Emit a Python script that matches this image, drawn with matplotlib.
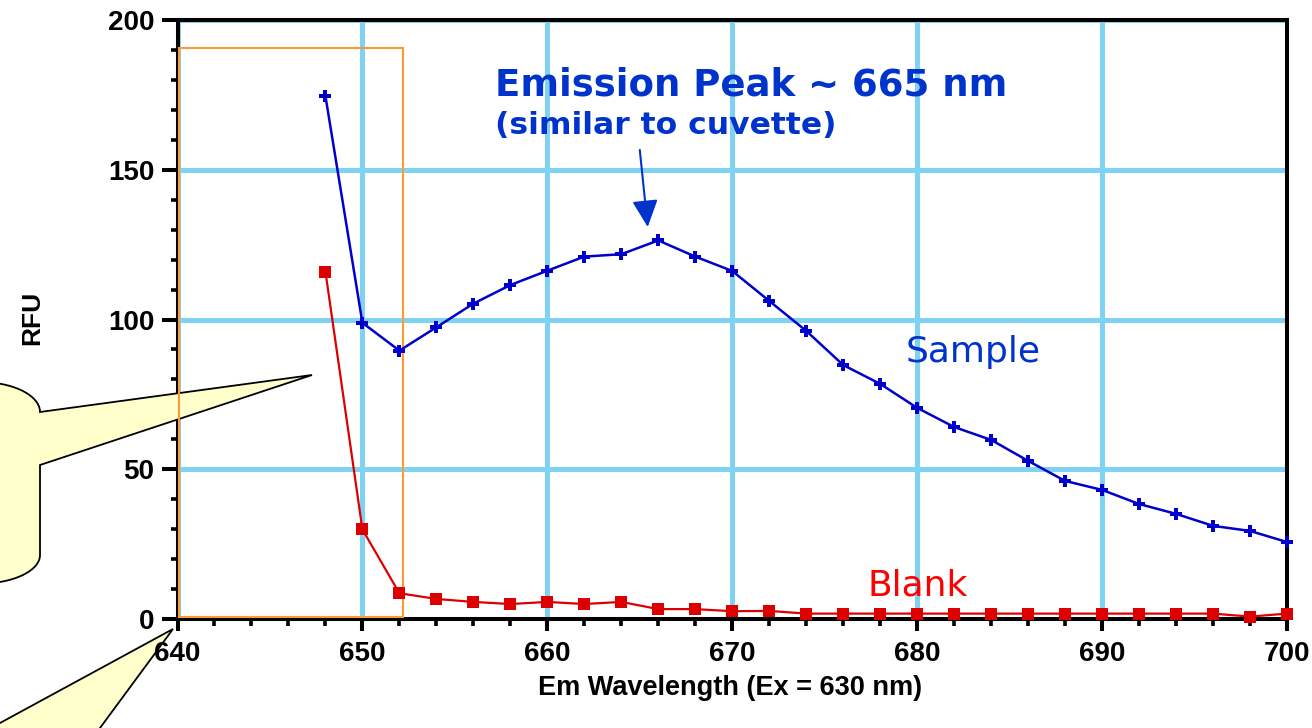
import numpy as np
import matplotlib
matplotlib.use("Agg")
import matplotlib.pyplot as plt
from matplotlib.path import Path
from matplotlib.patches import PathPatch, Rectangle
from matplotlib.ticker import MultipleLocator

# Emission scan (Ex = 630 nm), RFU per 2 nm step
wavelength = [648, 650, 652, 654, 656, 658, 660, 662, 664, 666, 668, 670, 672, 674,
              676, 678, 680, 682, 684, 686, 688, 690, 692, 694, 696, 698, 700]
sample = [174.6, 98.9, 89.6, 97.4, 105.3, 111.5, 116.3, 121.0, 121.8, 126.4, 121.0,
          116.2, 106.2, 96.2, 84.8, 78.5, 70.5, 64.1, 59.8, 52.8, 46.1, 43.1, 38.4,
          35.1, 31.1, 29.4, 25.7]
blank = [116.0, 29.9, 8.6, 6.7, 5.7, 5.0, 5.7, 5.0, 5.7, 3.3, 3.3, 2.6, 2.7, 1.8,
         1.8, 1.8, 1.8, 1.8, 1.8, 1.8, 1.8, 1.8, 1.8, 1.8, 1.8, 0.8, 1.8]

x_ticks = [640, 650, 660, 670, 680, 690, 700]
y_ticks = [0, 50, 100, 150, 200]

W, H = 1312, 728
fig = plt.figure(figsize=(W / 100, H / 100), dpi=100)
ax = fig.add_axes([177.5 / W, 1 - 619 / H, (1287 - 177.5) / W, (619 - 20) / H])


def px(x, y):
    """Pixel position (origin top-left) to figure fraction."""
    return x / W, 1 - y / H


grid_color = "#7FD3F2"
blue_line = "#0000CC"
red_line = "#DD0000"
text_blue = "#0033CC"

ax.set_xlim(640, 700)
ax.set_ylim(0, 200)
ax.set_xticks(x_ticks)
ax.set_yticks(y_ticks)
ax.xaxis.set_minor_locator(MultipleLocator(2))
ax.yaxis.set_minor_locator(MultipleLocator(10))
ax.grid(True, which="major", color=grid_color, linewidth=3.6)

for s in ax.spines.values():
    s.set_linewidth(2.9)
    s.set_color("black")

tick_font = dict(family="Liberation Sans", weight="bold", size=20)
ax.tick_params(axis="y", which="major", length=11.5, width=2.9, pad=5)
ax.tick_params(axis="x", which="major", length=8.6, width=2.9, pad=7.5)
ax.tick_params(axis="both", which="minor", length=5.2, width=2.6)
for lab in ax.get_xticklabels() + ax.get_yticklabels():
    lab.set_fontproperties(matplotlib.font_manager.FontProperties(**tick_font))

# axis titles
fx, fy = px(730, 695)
fig.text(fx, fy, "Em Wavelength (Ex = 630 nm)", ha="center", va="baseline",
         family="Liberation Sans", weight="bold", size=19.5)
fx, fy = px(39.5, 317.5)
fig.text(fx, fy, "RFU", ha="center", va="baseline", rotation=90,
         rotation_mode="anchor", family="Liberation Sans", weight="bold", size=19)

# data series
ax.plot(wavelength, sample, color=blue_line, linewidth=1.8, marker="P",
        markersize=8.5, markeredgewidth=0, clip_on=False, zorder=5)
ax.plot(wavelength, blank, color=red_line, linewidth=1.6, marker="s",
        markersize=8.5, markeredgewidth=0, clip_on=False, zorder=5)

# series labels
ax.text(679.4, 85.9, "Sample", color=text_blue, family="DejaVu Sans",
        size=26, va="baseline", ha="left")
ax.text(677.3, 7.7, "Blank", color="#FF0000", family="DejaVu Sans",
        size=26, va="baseline", ha="left")

# peak annotation
ax.text(657.15, 174.9, "Emission Peak ~ 665 nm", color=text_blue,
        family="DejaVu Sans", weight="bold", size=26.7, va="baseline", ha="left")
ax.text(657.15, 161.9, "(similar to cuvette)", color=text_blue,
        family="DejaVu Sans", weight="bold", size=22.6, va="baseline", ha="left")
ax.annotate("", xy=(665.43, 130.9), xytext=(665.0, 156.6),
            arrowprops=dict(arrowstyle="-|>,head_length=16.5,head_width=7.9",
                            mutation_scale=1, color=text_blue, linewidth=1.5,
                            shrinkA=0, shrinkB=0))

# orange highlight box over the low-wavelength region
ax.add_patch(Rectangle((640.1, 0.6), 12.07, 190.0, fill=False,
                       edgecolor="#FF9933", linewidth=1.5, clip_on=False,
                       zorder=3.4))

# callout bubble on the left (body partly off the page)
cx, cy, rx, ry = -20, 412, 60, 30
t1 = np.linspace(np.pi / 2, 0, 30)
top_arc = [(cx + rx * np.cos(t), cy - ry * np.sin(t)) for t in t1]
cy2, ry2 = 555, 28.6
t2 = np.linspace(0, -np.pi / 2, 30)
bot_arc = [(cx + rx * np.cos(t), cy2 - ry2 * np.sin(t)) for t in t2]
verts = [(-40, cy - ry)] + top_arc + [(312, 375), (40, 465)] + bot_arc + \
        [(-40, cy2 + ry2), (-40, cy - ry)]
verts = [px(x, y) for x, y in verts]
codes = [Path.MOVETO] + [Path.LINETO] * (len(verts) - 2) + [Path.CLOSEPOLY]
ax.add_patch(PathPatch(Path(verts, codes), facecolor="#FFFFCC",
                       edgecolor="black", linewidth=1.3,
                       transform=fig.transFigure, clip_on=False, zorder=3))

# second callout tail coming from below
verts2 = [(173, 629), (100, 728), (100, 745), (-20, 745), (-20, 733.9),
          (0, 723), (173, 629)]
verts2 = [px(x, y) for x, y in verts2]
codes2 = [Path.MOVETO] + [Path.LINETO] * (len(verts2) - 2) + [Path.CLOSEPOLY]
ax.add_patch(PathPatch(Path(verts2, codes2), facecolor="#FFFFCC",
                       edgecolor="black", linewidth=1.3,
                       transform=fig.transFigure, clip_on=False, zorder=1))

fig.savefig("out.png", dpi=100)
